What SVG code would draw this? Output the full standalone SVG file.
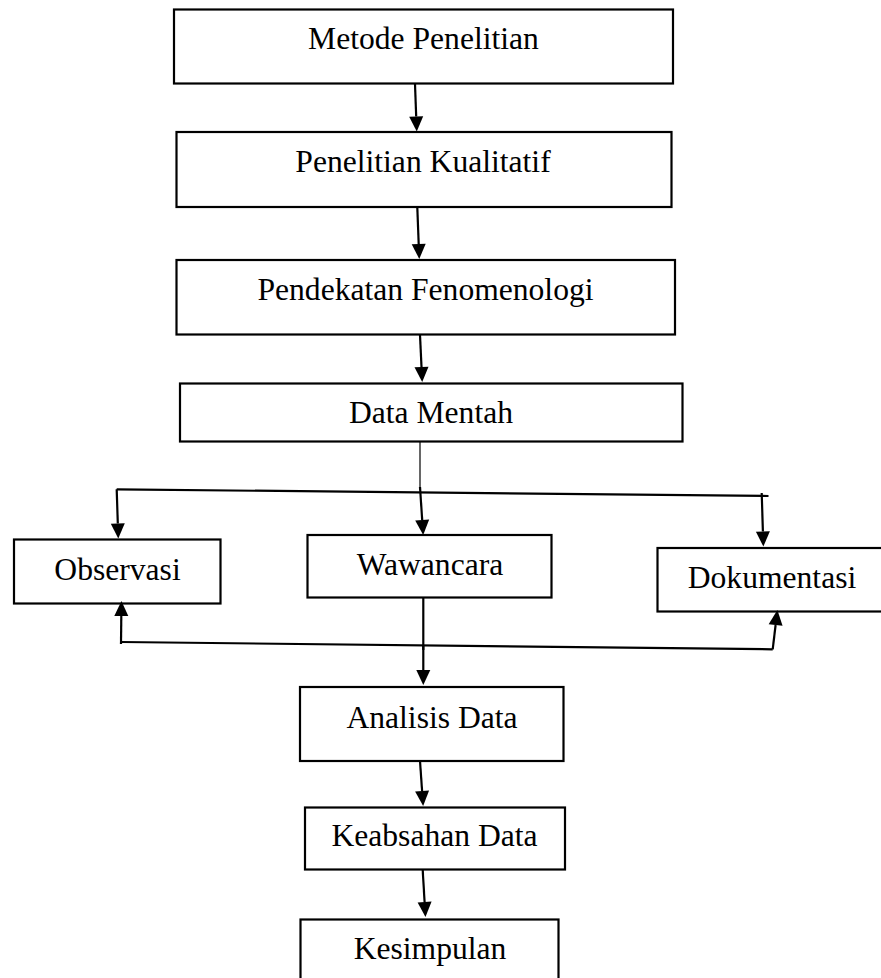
<svg xmlns="http://www.w3.org/2000/svg" width="881" height="978" viewBox="0 0 881 978">
<style>
.box{fill:#fff;stroke:#000;stroke-width:2.2}
.lbl{font-family:"Liberation Serif","Times New Roman",serif;font-size:31.6px;fill:#000;text-anchor:middle}
.ln{fill:none;stroke:#000;stroke-width:2.2}
.thin{fill:none;stroke:#000;stroke-width:1.2}
.arr{fill:none;stroke:#000;stroke-width:2.2;marker-end:url(#ah)}
</style>
<defs>
<marker id="ah" markerUnits="userSpaceOnUse" markerWidth="16" markerHeight="16" refX="0" refY="7" orient="auto" overflow="visible">
<path d="M0,0 L15,7 L0,14 Z" fill="#000"/>
</marker>
</defs>
<rect width="881" height="978" fill="#fff"/>
<g id="n-metode"><rect class="box" x="174" y="9.5" width="499" height="74"/><text class="lbl" x="423.5" y="49">Metode Penelitian</text></g>
<g id="n-kualitatif"><rect class="box" x="176.5" y="132" width="495" height="75"/><text class="lbl" x="423" y="171.5">Penelitian Kualitatif</text></g>
<g id="n-fenomenologi"><rect class="box" x="176.5" y="260" width="498.5" height="74.5"/><text class="lbl" x="425.5" y="300">Pendekatan Fenomenologi</text></g>
<g id="n-datamentah"><rect class="box" x="180" y="383.5" width="502.5" height="58"/><text class="lbl" x="431" y="423">Data Mentah</text></g>
<g id="n-observasi"><rect class="box" x="14" y="539.5" width="206.5" height="64"/><text class="lbl" x="117.5" y="579.5">Observasi</text></g>
<g id="n-wawancara"><rect class="box" x="307.5" y="535" width="244" height="62.5"/><text class="lbl" x="430" y="574.5">Wawancara</text></g>
<g id="n-dokumentasi"><rect class="box" x="657.5" y="548" width="230" height="63.5"/><text class="lbl" x="772" y="588">Dokumentasi</text></g>
<g id="n-analisis"><rect class="box" x="300" y="687" width="263.5" height="74"/><text class="lbl" x="432" y="727.5">Analisis Data</text></g>
<g id="n-keabsahan"><rect class="box" x="305" y="807.5" width="260" height="62"/><text class="lbl" x="434.5" y="846">Keabsahan Data</text></g>
<g id="n-kesimpulan"><rect class="box" x="300.5" y="919.5" width="258" height="70"/><text class="lbl" x="430" y="959">Kesimpulan</text></g>
<g id="connectors">
<line class="arr" x1="415" y1="84" x2="416.2" y2="116.5"/>
<line class="arr" x1="417.3" y1="207.5" x2="418.7" y2="244"/>
<line class="arr" x1="420" y1="335" x2="421.5" y2="367"/>
<line class="thin" x1="420" y1="442" x2="420" y2="490"/>
<line class="arr" x1="420" y1="487" x2="422.2" y2="520"/>
<line class="ln" x1="116.7" y1="489.3" x2="768.5" y2="496"/>
<line class="arr" x1="116.7" y1="489.3" x2="117.8" y2="523.5"/>
<line class="arr" x1="761.7" y1="493" x2="762.9" y2="531.5"/>
<line class="ln" x1="423.3" y1="597.5" x2="423.3" y2="650"/>
<line class="arr" x1="423.3" y1="645" x2="423.3" y2="670"/>
<line class="ln" x1="121" y1="642" x2="772.7" y2="649.3"/>
<line class="arr" x1="121" y1="644" x2="121.3" y2="616"/>
<line class="arr" x1="772.7" y1="649.3" x2="775.6" y2="625"/>
<line class="arr" x1="420" y1="761" x2="422.1" y2="791"/>
<line class="arr" x1="422.7" y1="870" x2="424.6" y2="902"/>
</g>
</svg>
